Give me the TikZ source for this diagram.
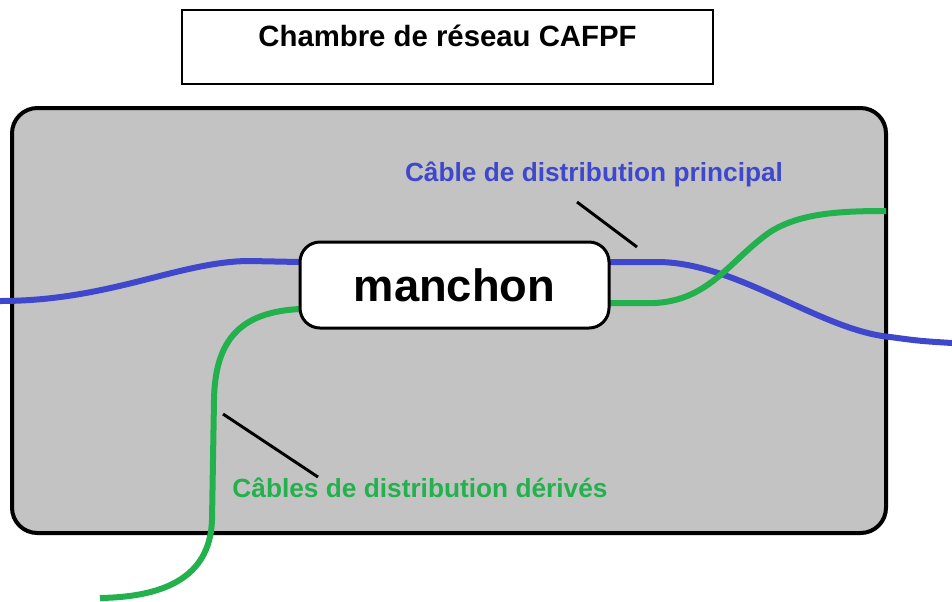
\documentclass[tikz,border=0pt]{standalone}
\usepackage{fontspec}
\setmainfont{Liberation Sans}
\definecolor{cablebleu}{HTML}{3F48CC}
\definecolor{cablevert}{HTML}{22B14C}
\definecolor{fond}{HTML}{C3C3C3}

\begin{document}
\begin{tikzpicture}[x=0.75pt,y=-0.75pt,
  bleu/.style={draw=cablebleu,line width=4.5pt},
  vert/.style={draw=cablevert,line width=4.5pt},
  trait/.style={draw=black,line width=2.2pt},
  legende/.style={inner sep=0pt,anchor=base,font=\bfseries\fontsize{19.7pt}{24pt}\selectfont}]
  \useasboundingbox (0,0) rectangle (952,601);

  \node (titre) [draw,line width=1.1pt,anchor=base,minimum width=398pt,inner ysep=0pt,
    text height=27pt,text depth=28.5pt,font=\bfseries\fontsize{22pt}{26pt}\selectfont]
    at (447.5,46) {Chambre de réseau CAFPF};
  \node (chambre) [draw,fill=fond,line width=3pt,rounded corners=19pt,
    minimum width=655.5pt,minimum height=318.75pt] at (449,320.5) {};

  \coordinate (bg) at (0,301);
  \coordinate (bd) at (952,343);
  \coordinate (mbg) at (300,262);
  \coordinate (mbd) at (609,262);
  \coordinate (mvg) at (300,309);
  \coordinate (mvd) at (609,303);
  \coordinate (vb) at (100,598);
  \coordinate (vh) at (886,211);

  \draw[bleu] (bg) .. controls (110,301) and (180,261) .. (250,261) -- (mbg);
  \draw[bleu] (mbd) -- (660,262) .. controls (740,264) and (820,330) .. (890,337)
    .. controls (920,341) .. (bd);
  \draw[vert] (mvd) -- (655,303) .. controls (710,300) and (730,260) .. (770,232)
    .. controls (800,213) and (840,211) .. (vh);
  \draw[vert] (mvg) .. controls (240,312) and (215,340) .. (214,400) -- (212,520)
    .. controls (210,580) and (160,597) .. (vb);

  \node (manchon) [draw,fill=white,line width=2.25pt,rounded corners=15pt,
    minimum width=231.75pt,minimum height=64.5pt,
    font=\bfseries\fontsize{34pt}{40pt}\selectfont] at (454.5,285) {manchon};

  \node (principal) [legende,text=cablebleu] at (594,181) {Câble de distribution principal};
  \node (derives) [legende,text=cablevert] at (420,497) {Câbles de distribution dérivés};

  \coordinate (p1) at (577,202);
  \coordinate (p2) at (637,247);
  \coordinate (d1) at (223,414);
  \coordinate (d2) at (318,477);
  \draw[trait] (p1) -- (p2);
  \draw[trait] (d1) -- (d2);
\end{tikzpicture}
\end{document}
